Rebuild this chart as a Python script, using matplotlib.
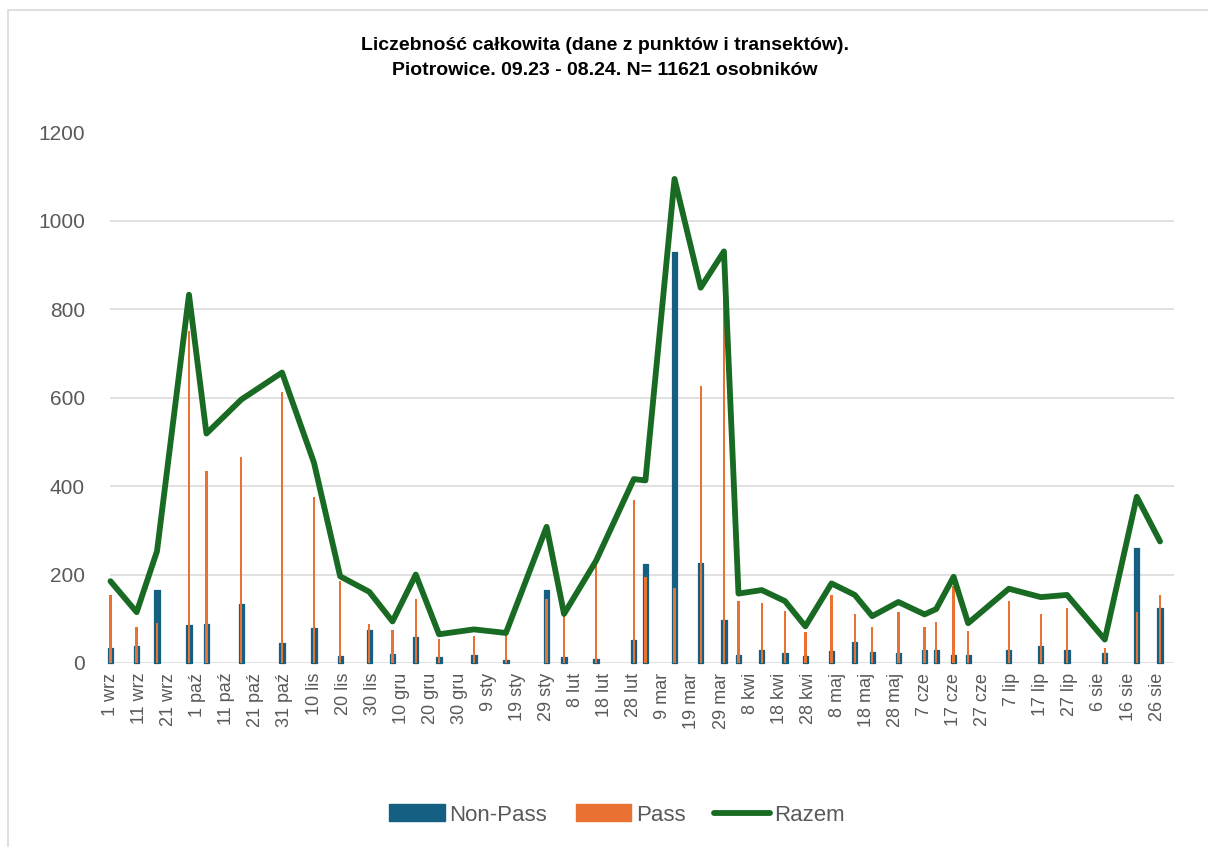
import matplotlib
matplotlib.use("Agg")
import matplotlib.pyplot as plt
import matplotlib.dates as mdates
from matplotlib.patches import Patch
from matplotlib.lines import Line2D
import pandas as pd

# Survey dates (Sep 2023 - Aug 2024)
dates = [
    "2023-09-01", "2023-09-10", "2023-09-17", "2023-09-28", "2023-10-04",
    "2023-10-16", "2023-10-30", "2023-11-10", "2023-11-19", "2023-11-29",
    "2023-12-07", "2023-12-15", "2023-12-23", "2024-01-04", "2024-01-15",
    "2024-01-29", "2024-02-04", "2024-02-15", "2024-02-28", "2024-03-03",
    "2024-03-13", "2024-03-22", "2024-03-30", "2024-04-04", "2024-04-12",
    "2024-04-20", "2024-04-27", "2024-05-06", "2024-05-14", "2024-05-20",
    "2024-05-29", "2024-06-07", "2024-06-11", "2024-06-17", "2024-06-22",
    "2024-07-06", "2024-07-17", "2024-07-26", "2024-08-08", "2024-08-19",
    "2024-08-27",
]

non_pass = [35, 38, 164, 86, 89, 133, 45, 79, 15, 75,
            21, 59, 13, 17, 7, 164, 13, 10, 51, 223,
            929, 227, 98, 19, 29, 23, 15, 27, 47, 25,
            23, 30, 30, 19, 19, 29, 39, 30, 23, 261,
            124]

pass_ = [153, 82, 91, 750, 434, 465, 614, 375, 185, 89,
         75, 144, 55, 61, 63, 144, 106, 223, 368, 195,
         170, 627, 833, 141, 136, 118, 69, 154, 111, 82,
         116, 82, 92, 175, 72, 140, 111, 124, 33, 116,
         154]

razem = [185, 115, 253, 833, 519, 596, 657, 453, 196, 161,
         94, 200, 65, 76, 68, 308, 111, 231, 416, 413,
         1095, 849, 931, 157, 165, 140, 83, 180, 154, 106,
         138, 110, 122, 195, 90, 168, 149, 154, 53, 376,
         275]

tick_labels = [
    "1 wrz", "11 wrz", "21 wrz", "1 paź", "11 paź", "21 paź", "31 paź",
    "10 lis", "20 lis", "30 lis", "10 gru", "20 gru", "30 gru",
    "9 sty", "19 sty", "29 sty", "8 lut", "18 lut", "28 lut",
    "9 mar", "19 mar", "29 mar", "8 kwi", "18 kwi", "28 kwi",
    "8 maj", "18 maj", "28 maj", "7 cze", "17 cze", "27 cze",
    "7 lip", "17 lip", "27 lip", "6 sie", "16 sie", "26 sie",
]

title = ("Liczebność całkowita (dane z punktów i transektów).\n"
         "Piotrowice. 09.23 - 08.24. N= 11621 osobników")

BLUE = "#156082"
ORANGE = "#E97132"
GREEN = "#196B24"
GRID = "#D9D9D9"
TEXT = "#595959"

plt.rcParams["font.family"] = ["Liberation Sans", "DejaVu Sans"]

W, H = 1208, 847
fig = plt.figure(figsize=(W / 100, H / 100), dpi=100)
ax = fig.add_axes([110 / W, 1 - 663 / H, 1064 / W, 530.5 / H])

x = mdates.date2num(pd.to_datetime(dates))
start = mdates.date2num(pd.Timestamp("2023-09-01"))

bars_np = ax.bar(x, non_pass, width=1.8, color=BLUE, edgecolor=BLUE,
                 linewidth=0.9, zorder=2)
for b in bars_np:
    b.set_joinstyle("round")
    b.set_clip_on(False)
bars_p = ax.bar(x, pass_, width=0.8, color=ORANGE, linewidth=0, zorder=3)
for b in bars_p:
    b.set_clip_on(False)
ax.plot(x, razem, color=GREEN, lw=4.2, solid_joinstyle="round",
        solid_capstyle="round", zorder=4, clip_on=False)

ax.set_xlim(start - 0.17, start + 365.8)
ax.set_ylim(0, 1200)
ax.set_yticks(range(0, 1201, 200))
ax.set_xticks([start + 10 * i for i in range(len(tick_labels))])
ax.set_xticklabels(tick_labels, rotation=90, ha="center", va="top",
                   fontsize=13, color=TEXT)
ax.tick_params(axis="x", length=0, pad=7)
ax.tick_params(axis="y", length=0, pad=18, labelsize=15, labelcolor=TEXT)

ax.grid(axis="y", color=GRID, linewidth=1.1, zorder=0)
ax.set_axisbelow(True)
for s in ax.spines.values():
    s.set_visible(False)

fig.text(605 / W, 1 - 58 / H, title, ha="center", va="center",
         fontsize=14, fontweight="bold", color="black", linespacing=1.55)

handles = [Patch(facecolor=BLUE, edgecolor=BLUE),
           Patch(facecolor=ORANGE, edgecolor=ORANGE),
           Line2D([0], [0], color=GREEN, lw=4.2, solid_capstyle="round")]
fig.legend(handles, ["Non-Pass", "Pass", "Razem"], ncol=3, frameon=False,
           loc="center", bbox_to_anchor=(617 / W, 1 - 815 / H),
           fontsize=16, labelcolor=TEXT, handlelength=2.5, handleheight=0.8,
           handletextpad=0.2, columnspacing=1.3)

# chart frame
fig.add_artist(Line2D([8 / W, 8 / W, 1.0], [0.0, 1 - 10 / H, 1 - 10 / H],
                      transform=fig.transFigure, color=GRID, lw=1.2))

fig.savefig("out.png", dpi=100)
